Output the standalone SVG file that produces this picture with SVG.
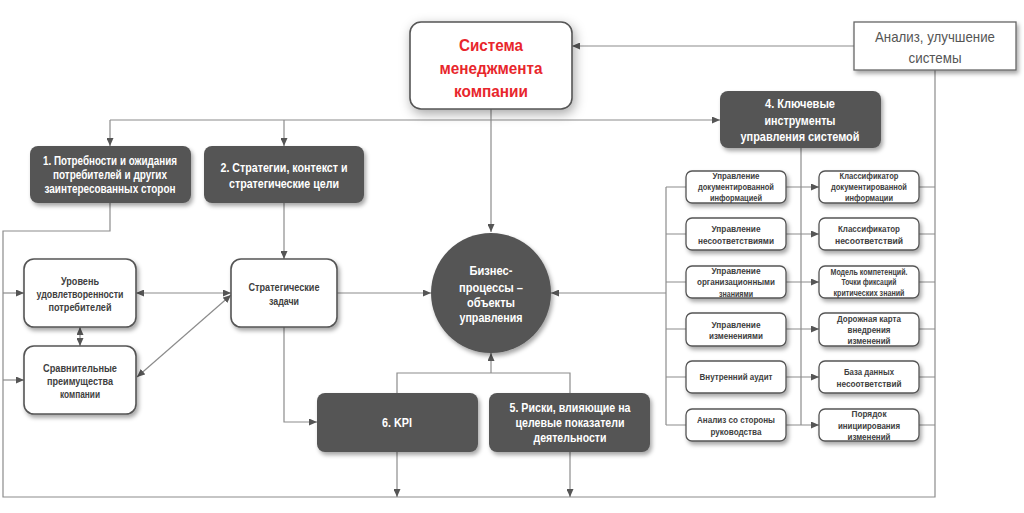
<svg xmlns="http://www.w3.org/2000/svg" width="1024" height="513" viewBox="0 0 1024 513">
<defs>
<filter id="sh" x="-20%" y="-20%" width="140%" height="150%">
<feDropShadow dx="2" dy="3" stdDeviation="2" flood-color="#000" flood-opacity="0.35"/>
</filter>
<filter id="shBig" x="-30%" y="-40%" width="160%" height="190%">
<feDropShadow dx="2" dy="4" stdDeviation="6" flood-color="#000" flood-opacity="0.35"/>
</filter>
<marker id="ar" markerWidth="8" markerHeight="7" refX="8" refY="3.5" orient="auto-start-reverse" markerUnits="userSpaceOnUse">
<path d="M0,0 L8,3.5 L0,7 z" fill="#555"/>
</marker>
</defs>
<style>
.ln{fill:none;stroke:#8c8c8c;stroke-width:1.2}
.a{marker-end:url(#ar)}
.b{marker-start:url(#ar);marker-end:url(#ar)}
.dark{fill:#555555;filter:url(#sh)}
.wb{fill:#fff;stroke:#555;stroke-width:1.6;filter:url(#sh)}
.sb{fill:#fff;stroke:#555;stroke-width:1.3;filter:url(#sh)}
text{font-family:"Liberation Sans",Arial,sans-serif;text-anchor:middle;font-weight:bold}
.tw{fill:#fff;font-size:12px}
.tg{fill:#404040;font-size:11px}
.ts{fill:#404040;font-size:9px}
.tr{fill:#e8262c;font-size:16px}
.ta{fill:#555;font-size:15px;font-weight:normal}
</style>
<rect width="1024" height="513" fill="#fff"/>
<g id="connectors">
<path class="ln a" d="M491,109 V232"/>
<path class="ln a" d="M110,120 H720"/>
<path class="ln a" d="M110,120 V146"/>
<path class="ln a" d="M284,120 V146"/>
<path class="ln a" d="M854,46 H572"/>
<path class="ln" d="M935,70 V497 H3 V231 H110 V203"/>
<path class="ln a" d="M3,293 H24"/>
<path class="ln a" d="M3,380 H24"/>
<path class="ln a" d="M284,203 V259"/>
<path class="ln b" d="M136,293 H231"/>
<path class="ln b" d="M231,295 L137,377"/>
<path class="ln b" d="M80,327 V346"/>
<path class="ln a" d="M337,293 H431"/>
<path class="ln a" d="M284,327 V422 H317"/>
<path class="ln" d="M397,393 V373 H570 V393"/>
<path class="ln a" d="M491,373 V353"/>
<path class="ln a" d="M397,452 V497"/>
<path class="ln a" d="M570,452 V497"/>
<path class="ln a" d="M666,293 H551"/>
<path class="ln" d="M666,187 V425"/>
<path class="ln" d="M801,148 V425"/>
<path class="ln" d="M666,187 H686 M666,234 H686 M666,282 H686 M666,329 H686 M666,377 H686 M666,425 H686"/>
<path class="ln" d="M919,187 H935 M919,234 H935 M919,282 H935 M919,329 H935 M919,377 H935 M919,425 H935"/>
<path class="ln a" d="M786,187 H819"/>
<path class="ln a" d="M786,234 H819"/>
<path class="ln a" d="M786,282 H819"/>
<path class="ln a" d="M786,329 H819"/>
<path class="ln a" d="M786,377 H819"/>
<path class="ln a" d="M786,425 H819"/>
</g>
<g id="system">
<rect x="410" y="22" width="162" height="87" rx="11" fill="#fff" stroke="#555" stroke-width="1.6" filter="url(#shBig)"/>
<text class="tr" x="491" y="51" textLength="64" lengthAdjust="spacingAndGlyphs">Система</text>
<text class="tr" x="491" y="74" textLength="103" lengthAdjust="spacingAndGlyphs">менеджмента</text>
<text class="tr" x="491" y="97" textLength="74" lengthAdjust="spacingAndGlyphs">компании</text>
</g>
<g id="analysis">
<rect x="854" y="22" width="162" height="48" fill="#fff" stroke="#666" stroke-width="1.3" filter="url(#sh)"/>
<text class="ta" x="935" y="42" textLength="120" lengthAdjust="spacingAndGlyphs">Анализ, улучшение</text>
<text class="ta" x="935" y="63" textLength="53" lengthAdjust="spacingAndGlyphs">системы</text>
</g>
<g id="box1">
<rect class="dark" x="30" y="146" width="161" height="57" rx="8"/>
<text class="tw" x="110" y="165" font-size="11" textLength="134" lengthAdjust="spacingAndGlyphs">1. Потребности и ожидания</text>
<text class="tw" x="110" y="179" font-size="11" textLength="114" lengthAdjust="spacingAndGlyphs">потребителей и других</text>
<text class="tw" x="110" y="193" font-size="11" textLength="131" lengthAdjust="spacingAndGlyphs">заинтересованных сторон</text>
</g>
<g id="box2">
<rect class="dark" x="204" y="146" width="160" height="57" rx="8"/>
<text class="tw" x="284" y="172" textLength="127" lengthAdjust="spacingAndGlyphs">2. Стратегии, контекст и</text>
<text class="tw" x="284" y="188" textLength="110" lengthAdjust="spacingAndGlyphs">стратегические цели</text>
</g>
<g id="box4">
<rect class="dark" x="720" y="91" width="161" height="57" rx="8"/>
<text class="tw" x="800" y="108" textLength="70" lengthAdjust="spacingAndGlyphs">4. Ключевые</text>
<text class="tw" x="800" y="125" textLength="71" lengthAdjust="spacingAndGlyphs">инструменты</text>
<text class="tw" x="800" y="141" textLength="119" lengthAdjust="spacingAndGlyphs">управления системой</text>
</g>
<g id="level">
<rect class="wb" x="24" y="259" width="112" height="68" rx="10"/>
<text class="tg" x="80" y="285" textLength="38" lengthAdjust="spacingAndGlyphs">Уровень</text>
<text class="tg" x="80" y="298" textLength="87" lengthAdjust="spacingAndGlyphs">удовлетворенности</text>
<text class="tg" x="80" y="311" textLength="63" lengthAdjust="spacingAndGlyphs">потребителей</text>
</g>
<g id="advantages">
<rect class="wb" x="24" y="346" width="112" height="68" rx="10"/>
<text class="tg" x="80" y="372" textLength="74" lengthAdjust="spacingAndGlyphs">Сравнительные</text>
<text class="tg" x="80" y="385" textLength="66" lengthAdjust="spacingAndGlyphs">преимущества</text>
<text class="tg" x="80" y="398" textLength="40" lengthAdjust="spacingAndGlyphs">компании</text>
</g>
<g id="tasks">
<rect class="wb" x="231" y="259" width="106" height="68" rx="10"/>
<text class="tg" x="284" y="291" textLength="71" lengthAdjust="spacingAndGlyphs">Стратегические</text>
<text class="tg" x="284" y="305" textLength="30" lengthAdjust="spacingAndGlyphs">задачи</text>
</g>
<g id="processes">
<circle cx="491" cy="293" r="60" fill="#555555" filter="url(#sh)"/>
<text class="tw" x="491" y="275" textLength="43" lengthAdjust="spacingAndGlyphs">Бизнес-</text>
<text class="tw" x="491" y="292" textLength="64" lengthAdjust="spacingAndGlyphs">процессы –</text>
<text class="tw" x="491" y="307" textLength="48" lengthAdjust="spacingAndGlyphs">объекты</text>
<text class="tw" x="491" y="322" textLength="63" lengthAdjust="spacingAndGlyphs">управления</text>
</g>
<g id="kpi">
<rect class="dark" x="317" y="393" width="161" height="59" rx="8"/>
<text class="tw" x="397" y="427" textLength="30" lengthAdjust="spacingAndGlyphs">6. KPI</text>
</g>
<g id="risks">
<rect class="dark" x="489" y="393" width="161" height="59" rx="8"/>
<text class="tw" x="570" y="412" textLength="121" lengthAdjust="spacingAndGlyphs">5. Риски, влияющие на</text>
<text class="tw" x="570" y="427" textLength="109" lengthAdjust="spacingAndGlyphs">целевые показатели</text>
<text class="tw" x="570" y="442" textLength="73" lengthAdjust="spacingAndGlyphs">деятельности</text>
</g>
<g id="l1">
<rect class="sb" x="686" y="171" width="100" height="32" rx="6"/>
<text class="ts" x="736" y="179" textLength="47" lengthAdjust="spacingAndGlyphs">Управление</text>
<text class="ts" x="736" y="190" textLength="76" lengthAdjust="spacingAndGlyphs">документированной</text>
<text class="ts" x="736" y="201" textLength="52" lengthAdjust="spacingAndGlyphs">информацией</text>
</g>
<g id="l2">
<rect class="sb" x="686" y="218" width="100" height="32" rx="6"/>
<text class="ts" x="736" y="232" textLength="49" lengthAdjust="spacingAndGlyphs">Управление</text>
<text class="ts" x="736" y="244" textLength="76" lengthAdjust="spacingAndGlyphs">несоответствиями</text>
</g>
<g id="l3">
<rect class="sb" x="686" y="266" width="100" height="32" rx="6"/>
<text class="ts" x="736" y="274" textLength="49" lengthAdjust="spacingAndGlyphs">Управление</text>
<text class="ts" x="736" y="285" textLength="78" lengthAdjust="spacingAndGlyphs">организационными</text>
<text class="ts" x="736" y="297" textLength="34" lengthAdjust="spacingAndGlyphs">знаниями</text>
</g>
<g id="l4">
<rect class="sb" x="686" y="313" width="100" height="33" rx="6"/>
<text class="ts" x="736" y="328" textLength="49" lengthAdjust="spacingAndGlyphs">Управление</text>
<text class="ts" x="736" y="339" textLength="54" lengthAdjust="spacingAndGlyphs">изменениями</text>
</g>
<g id="l5">
<rect class="sb" x="686" y="361" width="100" height="32" rx="6"/>
<text class="ts" x="736" y="380" textLength="73" lengthAdjust="spacingAndGlyphs">Внутренний аудит</text>
</g>
<g id="l6">
<rect class="sb" x="686" y="409" width="100" height="32" rx="6"/>
<text class="ts" x="736" y="423" textLength="78" lengthAdjust="spacingAndGlyphs">Анализ со стороны</text>
<text class="ts" x="736" y="435" textLength="51" lengthAdjust="spacingAndGlyphs">руководства</text>
</g>
<g id="r1">
<rect class="sb" x="819" y="171" width="100" height="32" rx="6"/>
<text class="ts" x="869" y="179" textLength="59" lengthAdjust="spacingAndGlyphs">Классификатор</text>
<text class="ts" x="869" y="190" textLength="76" lengthAdjust="spacingAndGlyphs">документированной</text>
<text class="ts" x="869" y="201" textLength="48" lengthAdjust="spacingAndGlyphs">информации</text>
</g>
<g id="r2">
<rect class="sb" x="819" y="218" width="100" height="32" rx="6"/>
<text class="ts" x="869" y="232" textLength="62" lengthAdjust="spacingAndGlyphs">Классификатор</text>
<text class="ts" x="869" y="244" textLength="68" lengthAdjust="spacingAndGlyphs">несоответствий</text>
</g>
<g id="r3">
<rect class="sb" x="819" y="266" width="100" height="32" rx="6"/>
<text class="ts" x="869" y="275" font-size="8" textLength="77" lengthAdjust="spacingAndGlyphs">Модель компетенций.</text>
<text class="ts" x="869" y="285" font-size="8" textLength="55" lengthAdjust="spacingAndGlyphs">Точки фиксаций</text>
<text class="ts" x="869" y="296" font-size="8" textLength="71" lengthAdjust="spacingAndGlyphs">критических знаний</text>
</g>
<g id="r4">
<rect class="sb" x="819" y="313" width="100" height="33" rx="6"/>
<text class="ts" x="869" y="322" font-size="9.5" textLength="64" lengthAdjust="spacingAndGlyphs">Дорожная карта</text>
<text class="ts" x="869" y="333" font-size="9.5" textLength="43" lengthAdjust="spacingAndGlyphs">внедрения</text>
<text class="ts" x="869" y="344" font-size="9.5" textLength="43" lengthAdjust="spacingAndGlyphs">изменений</text>
</g>
<g id="r5">
<rect class="sb" x="819" y="361" width="100" height="32" rx="6"/>
<text class="ts" x="869" y="375" textLength="50" lengthAdjust="spacingAndGlyphs">База данных</text>
<text class="ts" x="869" y="387" textLength="65" lengthAdjust="spacingAndGlyphs">несоответствий</text>
</g>
<g id="r6">
<rect class="sb" x="819" y="409" width="100" height="32" rx="6"/>
<text class="ts" x="869" y="417" textLength="35" lengthAdjust="spacingAndGlyphs">Порядок</text>
<text class="ts" x="869" y="429" textLength="62" lengthAdjust="spacingAndGlyphs">инициирования</text>
<text class="ts" x="869" y="440" textLength="43" lengthAdjust="spacingAndGlyphs">изменений</text>
</g>
</svg>
